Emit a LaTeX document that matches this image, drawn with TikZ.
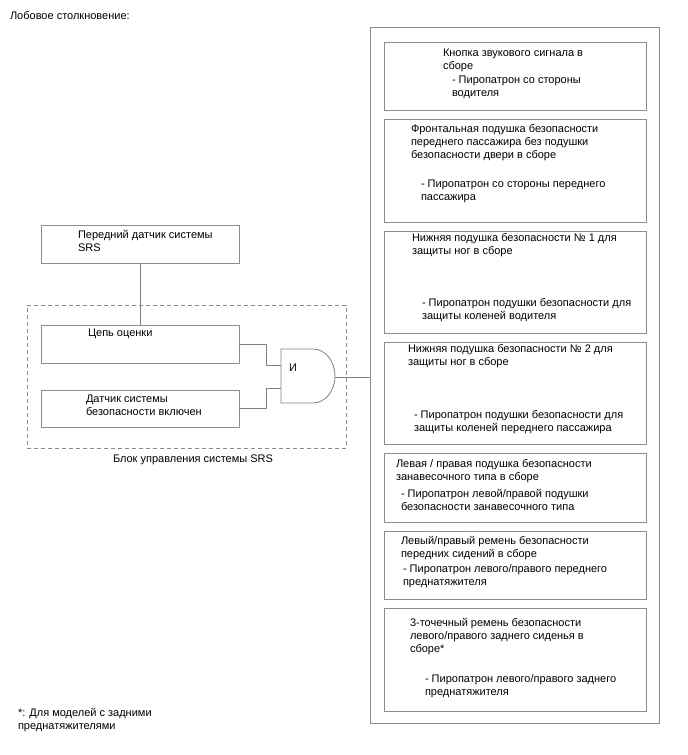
\documentclass[tikz,border=0pt]{standalone}
\usepackage{fontspec}
\setmainfont{Liberation Sans}
\begin{document}
\begin{tikzpicture}[x=1pt,y=-1pt,
  every node/.style={inner sep=0pt, outer sep=0pt},
  box/.style={draw=black!45, line width=0.8pt, fill=none},
  txt/.style={anchor=base west, align=left, font=\fontsize{11}{13}\selectfont, text=black},
  wire/.style={draw=black!50, line width=0.8pt}]
\useasboundingbox (0,0) rectangle (688,755);

\node[txt] (title) at (10,19) {Лобовое столкновение:};

% left side
\node[box, minimum width=198, minimum height=38] (sensor) at (140,244) {};
\node[txt] (sensorT) at (78,251) {Передний датчик системы\\SRS};

\node[draw=black!45, dashed, dash pattern=on 4pt off 3pt, line width=0.8pt, minimum width=319, minimum height=143] (ecu) at (186.5,376.5) {};
\node[font=\fontsize{11}{13}\selectfont, anchor=base] (ecuT) at (193,462) {Блок управления системы SRS};

\node[box, minimum width=198, minimum height=38] (c1) at (140,344) {};
\node[txt] (c1T) at (88,336) {Цепь оценки};

\node[box, minimum width=198, minimum height=37] (d1) at (140,408.5) {};
\node[txt] (d1T) at (86,415) {Датчик системы\\безопасности включен};

\node[minimum width=54, minimum height=54] (gate) at (308,376) {};
\draw[wire] (gate.north west) -- (313,349) arc[start angle=-90, end angle=90, x radius=22, y radius=27] -- (gate.south west) -- cycle;
\node[txt] (gateT) at (289,371) {И};
\coordinate (in1) at (281,365);
\coordinate (in2) at (281,388);

\draw[wire] (sensor.south) -- (c1.north);
\draw[wire] (c1.east) -- (266,344) |- (in1);
\draw[wire] (d1.east) -- (266,408.5) |- (in2);

% right side
\node[box, minimum width=289, minimum height=696] (outer) at (514.5,375) {};
\draw[wire] (gate.east |- 0,377) -- (outer.west |- 0,377);

\node[box, minimum width=262, minimum height=68] (b1) at (515,76) {};
\node[txt] at (443,69) {Кнопка звукового сигнала в\\сборе};
\node[txt] at (452,96) {- Пиропатрон со стороны\\водителя};

\node[box, minimum width=262, minimum height=103] (b2) at (515,170.5) {};
\node[txt] at (411,158) {Фронтальная подушка безопасности\\переднего пассажира без подушки\\безопасности двери в сборе};
\node[txt] at (421,200) {- Пиропатрон со стороны переднего\\пассажира};

\node[box, minimum width=262, minimum height=102] (b3) at (515,282) {};
\node[txt] at (412,254) {Нижняя подушка безопасности № 1 для\\защиты ног в сборе};
\node[txt] at (422,319) {- Пиропатрон подушки безопасности для\\защиты коленей водителя};

\node[box, minimum width=262, minimum height=102] (b4) at (515,393) {};
\node[txt] at (408,365) {Нижняя подушка безопасности № 2 для\\защиты ног в сборе};
\node[txt] at (414,431) {- Пиропатрон подушки безопасности для\\защиты коленей переднего пассажира};

\node[box, minimum width=262, minimum height=69] (b5) at (515,487.5) {};
\node[txt] at (396,480) {Левая / правая подушка безопасности\\занавесочного типа в сборе};
\node[txt] at (401,510) {- Пиропатрон левой/правой подушки\\безопасности занавесочного типа};

\node[box, minimum width=262, minimum height=68] (b6) at (515,565) {};
\node[txt] at (401,557) {Левый/правый ремень безопасности\\передних сидений в сборе};
\node[txt] at (403,585) {- Пиропатрон левого/правого переднего\\преднатяжителя};

\node[box, minimum width=262, minimum height=103] (b7) at (515,659.5) {};
\node[txt] at (410,652) {3-точечный ремень безопасности\\левого/правого заднего сиденья в\\сборе*};
\node[txt] at (425,695) {- Пиропатрон левого/правого заднего\\преднатяжителя};

\node[txt] (foot) at (18,729) {*: Для моделей с задними\\преднатяжителями};
\end{tikzpicture}
\end{document}
